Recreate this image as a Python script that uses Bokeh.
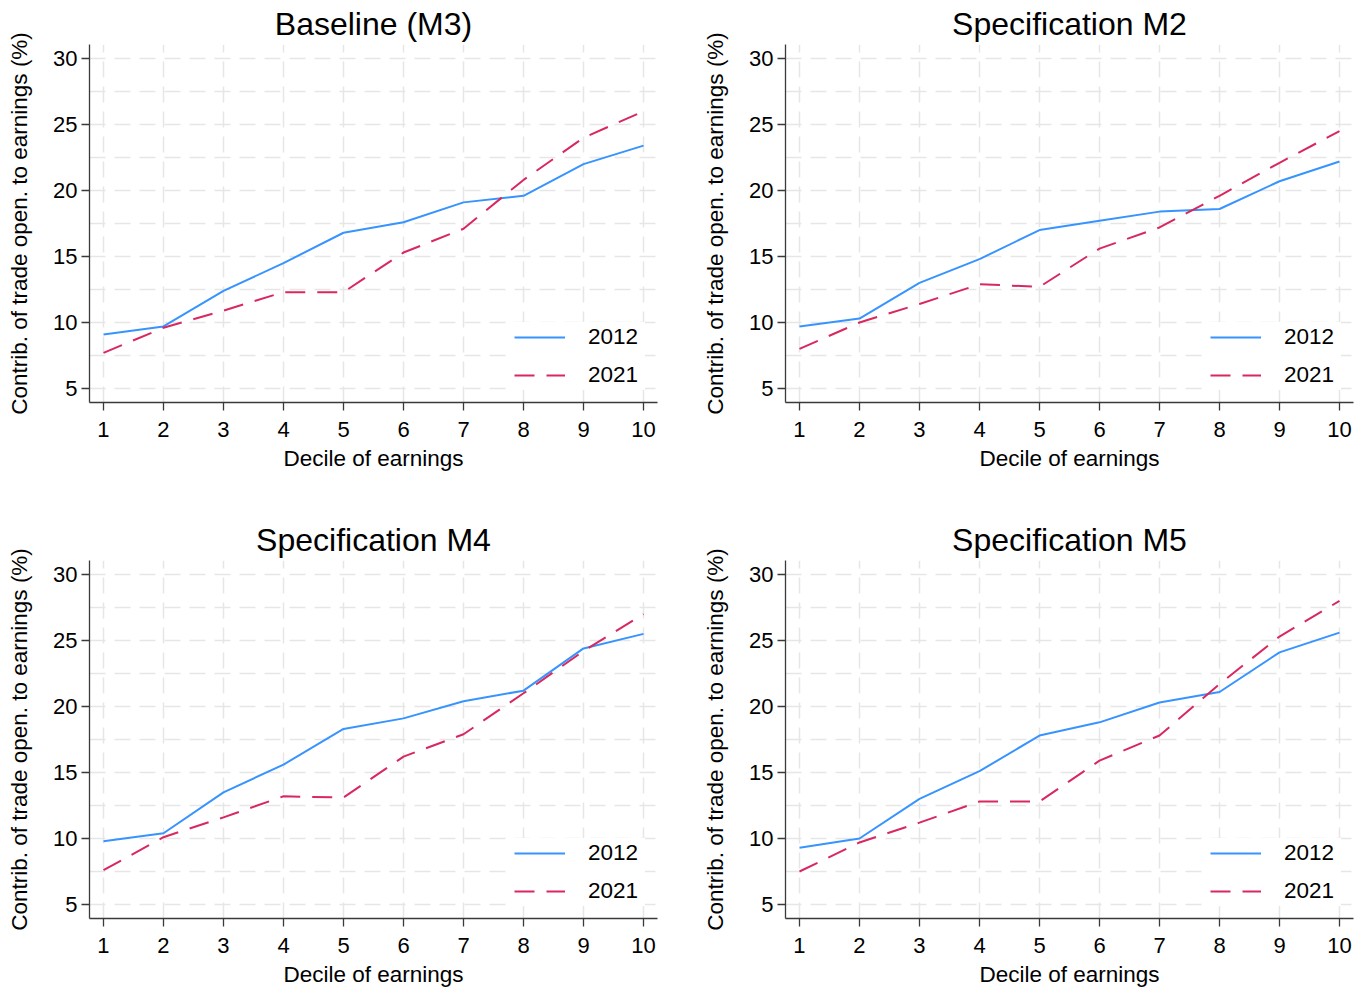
from bokeh.plotting import figure
from bokeh.layouts import column, row
from bokeh.models import Range1d, FixedTicker
from bokeh.embed import file_html
from bokeh.resources import INLINE

# ---- data ----
deciles = [1, 2, 3, 4, 5, 6, 7, 8, 9, 10]
x_ticks = [1, 2, 3, 4, 5, 6, 7, 8, 9, 10]
y_ticks = [5, 10, 15, 20, 25, 30]
y_grid = [5, 7.5, 10, 12.5, 15, 17.5, 20, 22.5, 25, 27.5, 30]

titles = ["Baseline (M3)", "Specification M2", "Specification M4", "Specification M5"]
series_names = ["2012", "2021"]

m3_2012 = [9.1, 9.7, 12.4, 14.5, 16.8, 17.6, 19.1, 19.6, 22.0, 23.4]
m3_2021 = [7.7, 9.6, 10.9, 12.3, 12.3, 15.3, 17.1, 20.8, 24.0, 26.0]
m2_2012 = [9.7, 10.3, 13.0, 14.8, 17.0, 17.7, 18.4, 18.6, 20.7, 22.2]
m2_2021 = [8.0, 10.0, 11.4, 12.9, 12.7, 15.6, 17.2, 19.6, 22.1, 24.5]
m4_2012 = [9.8, 10.4, 13.5, 15.6, 18.3, 19.1, 20.4, 21.2, 24.4, 25.5]
m4_2021 = [7.6, 10.1, 11.6, 13.2, 13.1, 16.2, 17.9, 21.0, 24.2, 27.0]
m5_2012 = [9.3, 10.0, 13.0, 15.1, 17.8, 18.8, 20.3, 21.1, 24.1, 25.6]
m5_2021 = [7.5, 9.7, 11.2, 12.8, 12.8, 15.9, 17.8, 21.7, 25.3, 28.0]

FONT = "Liberation Sans"
BLUE = "#3794ff"
RED = "#d8285f"


def make_panel(title, s2012, s2021, width, height, bl, br, bt, bb):
    p = figure(width=width, height=height,
               x_range=Range1d(0.767, 10.233), y_range=Range1d(3.94, 31.06),
               output_backend="svg", toolbar_location=None,
               min_border_left=bl, min_border_right=br,
               min_border_top=bt, min_border_bottom=bb,
               title=title)
    p.outline_line_color = None
    p.background_fill_color = "white"
    p.border_fill_color = "white"

    p.title.text_font = FONT
    p.title.text_font_size = "32px"
    p.title.text_font_style = "normal"
    p.title.text_color = "black"
    p.title.align = "center"
    p.title.standoff = 6

    # grids
    p.xgrid.ticker = FixedTicker(ticks=x_ticks)
    p.ygrid.ticker = FixedTicker(ticks=y_grid)
    for g in (p.xgrid, p.ygrid):
        g.grid_line_color = "#e6e6e6"
        g.grid_line_width = 1.5
        g.grid_line_dash = "16 9"

    # axes
    p.xaxis.ticker = FixedTicker(ticks=x_ticks)
    p.yaxis.ticker = FixedTicker(ticks=y_ticks)
    for ax in (p.xaxis, p.yaxis):
        ax.axis_line_color = "#3a3a3a"
        ax.axis_line_width = 1.3
        ax.major_tick_line_color = "#3a3a3a"
        ax.major_tick_line_width = 1.3
        ax.major_tick_out = 8
        ax.major_tick_in = 0
        ax.minor_tick_line_color = None
        ax.major_label_text_font = FONT
        ax.major_label_text_font_size = "22px"
        ax.major_label_text_color = "black"
        ax.axis_label_text_font = FONT
        ax.axis_label_text_font_size = "22.5px"
        ax.axis_label_text_font_style = "normal"
        ax.axis_label_text_color = "black"
    p.xaxis.axis_label = "Decile of earnings"
    p.yaxis.axis_label = "Contrib. of trade open. to earnings (%)"
    p.xaxis.major_label_standoff = 11
    p.xaxis.axis_label_standoff = 6
    p.yaxis.major_label_standoff = 4
    p.yaxis.axis_label_standoff = 18

    p.line(deciles, s2012, line_color=BLUE, line_width=2, legend_label=series_names[0])
    p.line(deciles, s2021, line_color=RED, line_width=2, line_dash="20 12",
           legend_label=series_names[1])

    lg = p.legend[0]
    lg.location = "bottom_right"
    lg.background_fill_color = "white"
    lg.background_fill_alpha = 1.0
    lg.border_line_color = None
    lg.label_text_font = FONT
    lg.label_text_font_size = "22.5px"
    lg.label_text_color = "black"
    lg.glyph_width = 51
    lg.glyph_height = 30
    lg.label_height = 30
    lg.label_width = 57
    lg.label_standoff = 23
    lg.spacing = 8
    lg.padding = 4
    lg.margin = 12
    return p


p1 = make_panel(titles[0], m3_2012, m3_2021, 700, 516, 89, 43, 43, 114)
p2 = make_panel(titles[1], m2_2012, m2_2021, 655, 516, 85, 2, 43, 114)
p3 = make_panel(titles[2], m4_2012, m4_2021, 700, 473, 89, 43, 42, 71)
p4 = make_panel(titles[3], m5_2012, m5_2021, 655, 473, 85, 2, 42, 71)

layout = column(row(p1, p2), row(p3, p4))

open("out.html", "w").write(file_html(layout, INLINE))
